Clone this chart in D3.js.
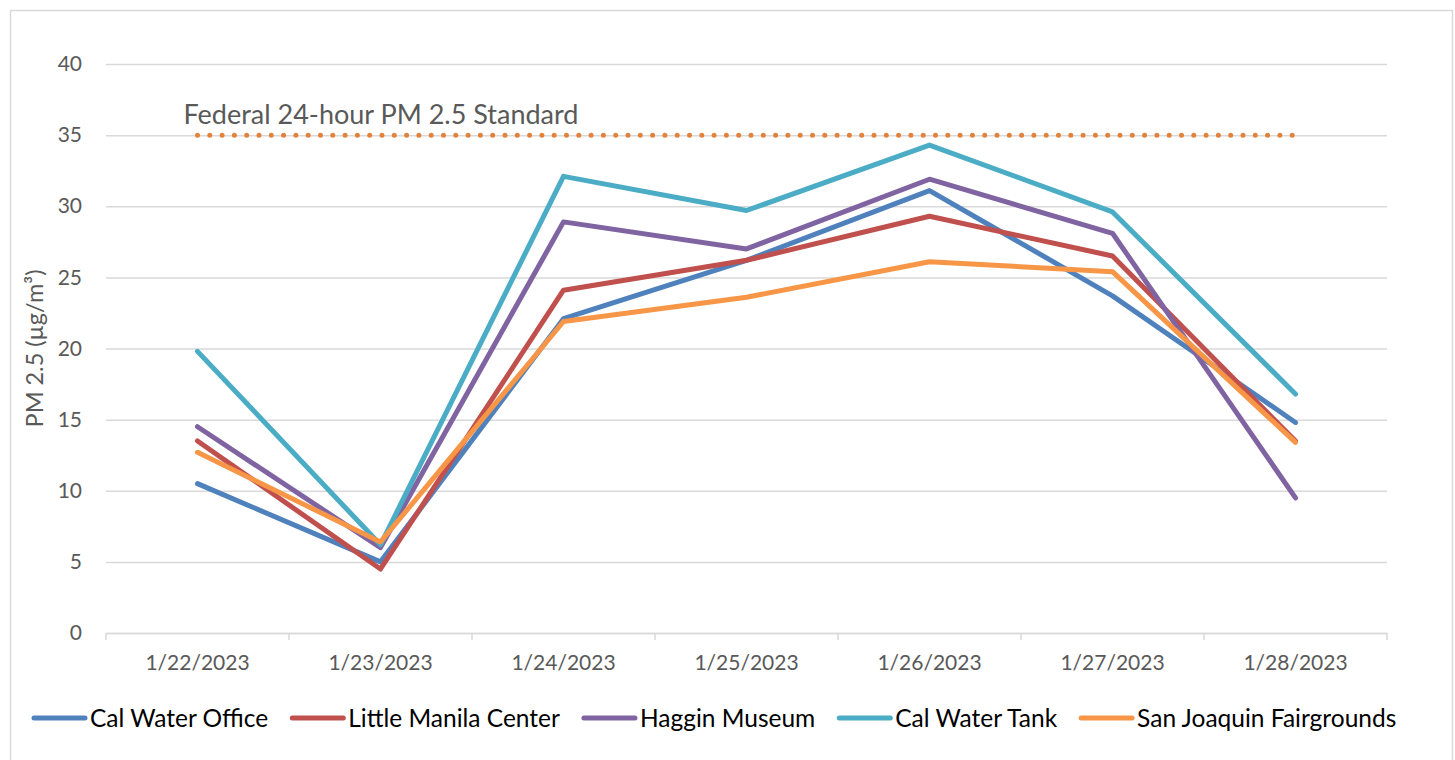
<!DOCTYPE html>
<html>
<head>
<meta charset="utf-8">
<script src="https://cdn.jsdelivr.net/npm/d3@7"></script>
<style>
  body { margin: 0; background: #fff; }
  text { font-family: Lato, "Open Sans", sans-serif; }
</style>
</head>
<body>
<div id="chart"></div>
<script>
// data
var dates = ["1/22/2023", "1/23/2023", "1/24/2023", "1/25/2023", "1/26/2023", "1/27/2023", "1/28/2023"];
var seriesNames = ["Cal Water Office", "Little Manila Center", "Haggin Museum", "Cal Water Tank", "San Joaquin Fairgrounds"];
var calWaterOffice = [10.5, 5.0, 22.1, 26.2, 31.1, 23.7, 14.8];
var littleManila = [13.5, 4.5, 24.1, 26.2, 29.3, 26.5, 13.5];
var hagginMuseum = [14.5, 6.0, 28.9, 27.0, 31.9, 28.1, 9.5];
var calWaterTank = [19.8, 6.2, 32.1, 29.7, 34.3, 29.6, 16.8];
var sjFairgrounds = [12.7, 6.4, 21.9, 23.6, 26.1, 25.4, 13.4];
var yTicks = [0, 5, 10, 15, 20, 25, 30, 35, 40];
var standardValue = 35;
var standardLabel = "Federal 24-hour PM 2.5 Standard";
var colors = ["#4F81BD", "#C0504D", "#8064A2", "#4BACC6", "#F79646"];

var allSeries = [calWaterOffice, littleManila, hagginMuseum, calWaterTank, sjFairgrounds].map(function(v, i) {
  return { name: seriesNames[i], values: v, color: colors[i] };
});

var W = 1455, H = 760;
var margin = { top: 64, right: 68, bottom: 127, left: 106 },
  width = W - margin.left - margin.right,
  height = H - margin.top - margin.bottom;

var svg = d3.select("#chart").append("svg")
  .attr("width", W)
  .attr("height", H);

// chart border
svg.append("rect")
  .attr("x", 10.5).attr("y", 10.5)
  .attr("width", 1442).attr("height", 800)
  .attr("fill", "none")
  .attr("stroke", "#d9d9d9")
  .attr("stroke-width", 1.5);

var g = svg.append("g")
  .attr("transform", "translate(" + margin.left + "," + margin.top + ")");

var x = d3.scaleBand().domain(dates).range([0, width]).padding(0);
var y = d3.scaleLinear().domain([0, 40]).range([height, 0]);

// y gridlines + labels
var yAxis = g.append("g")
  .call(d3.axisLeft(y).tickValues(yTicks).tickSize(-width).tickPadding(24));
yAxis.select(".domain").remove();
yAxis.selectAll(".tick line").attr("stroke", "#d9d9d9").attr("stroke-width", 1.5);
yAxis.selectAll(".tick text")
  .attr("fill", "#595959")
  .style("font-size", "21px");

// x axis
var xAxis = g.append("g")
  .attr("transform", "translate(0," + height + ")")
  .call(d3.axisBottom(x).tickSize(0).tickPadding(22));
xAxis.select(".domain").attr("stroke", "#d9d9d9").attr("stroke-width", 1.5);
xAxis.selectAll(".tick text")
  .attr("fill", "#595959")
  .style("font-size", "21px");

// separator ticks between categories
var bounds = dates.map(function(d) { return x(d); }).concat([width]);
g.append("g").selectAll("line")
  .data(bounds)
  .enter()
  .append("line")
  .attr("x1", function(d) { return d; })
  .attr("x2", function(d) { return d; })
  .attr("y1", height)
  .attr("y2", height + 7)
  .attr("stroke", "#d9d9d9")
  .attr("stroke-width", 1.5);

var cx = function(d) { return x(d) + x.bandwidth() / 2; };

// standard line (dotted)
g.append("line")
  .attr("x1", cx(dates[0]))
  .attr("x2", cx(dates[dates.length - 1]))
  .attr("y1", y(standardValue))
  .attr("y2", y(standardValue))
  .attr("stroke", "#E3823A")
  .attr("stroke-width", 5)
  .attr("stroke-linecap", "round")
  .attr("stroke-dasharray", "0 12.3");

g.append("text")
  .attr("x", cx(dates[0]) - 14)
  .attr("y", y(standardValue) - 11)
  .attr("fill", "#595959")
  .style("font-size", "27px")
  .text(standardLabel);

// series lines
var line = d3.line()
  .x(function(d, i) { return cx(dates[i]); })
  .y(function(d) { return y(d); });

g.selectAll(".series")
  .data(allSeries)
  .enter()
  .append("path")
  .attr("class", "series")
  .attr("d", function(d) { return line(d.values); })
  .attr("fill", "none")
  .attr("stroke", function(d) { return d.color; })
  .attr("stroke-width", 5)
  .attr("stroke-linejoin", "round")
  .attr("stroke-linecap", "round");

// y axis title
svg.append("text")
  .attr("transform", "translate(43," + (margin.top + height / 2) + ") rotate(-90)")
  .attr("text-anchor", "middle")
  .attr("fill", "#595959")
  .style("font-size", "23.5px")
  .text("PM 2.5 (µg/m³)");

// legend
var legend = svg.append("g").attr("transform", "translate(0,718)");
var lx = 32;
allSeries.forEach(function(s) {
  legend.append("line")
    .attr("x1", lx + 2).attr("x2", lx + 53)
    .attr("y1", 0).attr("y2", 0)
    .attr("stroke", s.color)
    .attr("stroke-width", 5)
    .attr("stroke-linecap", "round");
  var t = legend.append("text")
    .attr("x", lx + 58)
    .attr("y", 9)
    .attr("fill", "#000")
    .style("font-size", "24.5px")
    .text(s.name);
  lx = lx + 58 + t.node().getComputedTextLength() + 22;
});
</script>
</body>
</html>
